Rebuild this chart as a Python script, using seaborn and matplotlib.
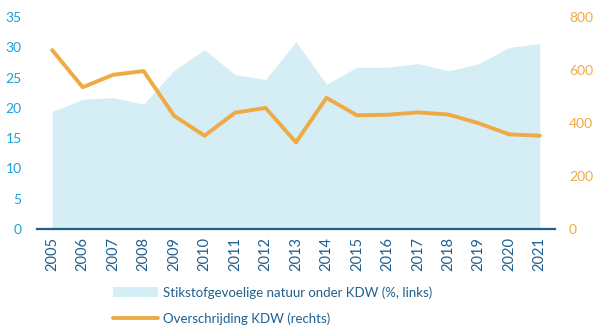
import matplotlib
matplotlib.use("Agg")
import matplotlib.pyplot as plt
import seaborn as sns
import pandas as pd
from matplotlib.patches import Patch
from matplotlib.lines import Line2D

# Jaren en reeksen
years = [2005, 2006, 2007, 2008, 2009, 2010, 2011, 2012, 2013,
         2014, 2015, 2016, 2017, 2018, 2019, 2020, 2021]
natuur_onder_kdw = [19.4, 21.4, 21.7, 20.6, 26.2, 29.6, 25.5, 24.7, 30.9,
                    23.9, 26.7, 26.7, 27.3, 26.1, 27.3, 30.0, 30.6]
overschrijding_kdw = [675, 535, 582, 596, 427, 352, 439, 457, 327,
                      495, 429, 431, 440, 432, 399, 357, 352]

label_area = "Stikstofgevoelige natuur onder KDW (%, links)"
label_line = "Overschrijding KDW (rechts)"

df = pd.DataFrame({"jaar": years, "natuur": natuur_onder_kdw,
                   "overschrijding": overschrijding_kdw})
df["pos"] = range(len(df))

sns.set_theme(style="white")
plt.rcParams["font.family"] = ["Lato", "DejaVu Sans"]

AREA = "#d5edf4"
ORANGE = "#f0aa45"
BLUE_L = "#1ba1d9"
DARK = "#1f5f8e"

fig = plt.figure(figsize=(5.96, 3.27), dpi=100)
ax = fig.add_axes([37 / 596, 1 - 229 / 327, (555 - 37) / 596, (229 - 17) / 327])

ax.fill_between(df["pos"], 0, df["natuur"], color=AREA, linewidth=0, zorder=1)
ax.set_ylim(0, 35)
ax.set_xlim(-0.5, len(df) - 0.5)
ax.set_yticks(range(0, 36, 5))
ax.set_xticks(df["pos"])
ax.set_xticklabels([str(y) for y in years], rotation=90, color=DARK, fontsize=10.5)
ax.tick_params(axis="y", colors=BLUE_L, labelsize=10, length=0, pad=11)
ax.tick_params(axis="x", length=0, pad=6)
for s in ["top", "right", "left"]:
    ax.spines[s].set_visible(False)
ax.spines["bottom"].set_color(DARK)
ax.spines["bottom"].set_linewidth(1.6)
ax.spines["bottom"].set_zorder(5)
ax.set_xlabel("")
ax.set_ylabel("")

ax2 = ax.twinx()
sns.lineplot(data=df, x="pos", y="overschrijding", ax=ax2, color=ORANGE,
             linewidth=2.8, legend=False, zorder=3)
ax2.set_ylim(0, 800)
ax2.set_yticks(range(0, 801, 200))
ax2.tick_params(axis="y", colors=ORANGE, labelsize=10, length=0, pad=10)
for s in ["top", "right", "left", "bottom"]:
    ax2.spines[s].set_visible(False)
ax2.set_xlabel("")
ax2.set_ylabel("")
ax2.set_xlim(-0.5, len(df) - 0.5)

handles = [Patch(facecolor=AREA, edgecolor="none"),
           Line2D([0], [0], color=ORANGE, linewidth=2.8)]
leg = fig.legend(handles, [label_area, label_line], loc="upper left",
                 bbox_to_anchor=(108 / 596, 1 - 281 / 327), frameon=False,
                 fontsize=9.5, handlelength=3.4, handleheight=0.8,
                 handletextpad=0.35, labelspacing=1.05, borderaxespad=0)
for t in leg.get_texts():
    t.set_color(DARK)

fig.savefig("out.png", dpi=100)
